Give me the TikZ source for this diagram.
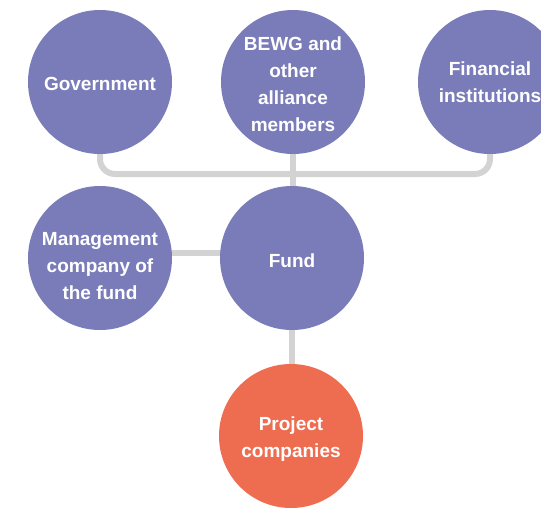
\documentclass[tikz,border=0pt]{standalone}
\usepackage{fontspec}
\setmainfont{Liberation Sans}
\usetikzlibrary{backgrounds}
\definecolor{purp}{HTML}{7A7CBA}
\definecolor{orng}{HTML}{EE6C50}
\definecolor{conngray}{HTML}{D3D3D3}
\tikzset{
  bubble/.style={circle, fill=purp, minimum size=144pt, inner sep=0pt},
  txt/.style={text=white, inner sep=0pt, font=\fontsize{19}{27}\selectfont\bfseries, align=center},
  conn/.style={draw=conngray, line width=6pt},
}
\begin{document}
\begin{tikzpicture}[x=1pt,y=-1pt]
\useasboundingbox (0,0) rectangle (541,509);
\clip (0,0) rectangle (541,509);
\node[bubble] (gov) at (100,82) {};
\node[bubble] (bewg) at (293,82) {};
\node[bubble] (fin) at (490,82) {};
\node[bubble] (mgmt) at (100,258) {};
\node[bubble] (fund) at (292,258) {};
\node[bubble, fill=orng] (proj) at (291,436) {};
\node[txt] (govt) at ([yshift=-2pt]gov.center) {Government};
\node[txt] (bewgt) at ([yshift=-2pt]bewg.center) {BEWG and\\other\\alliance\\members};
\node[txt] (fint) at (fin.center) {Financial\\institutions};
\node[txt] (mgmtt) at ([yshift=-8pt]mgmt.center) {Management\\company of\\the fund};
\node[txt] (fundt) at ([yshift=-3pt]fund.center) {Fund};
\node[txt] (projt) at ([yshift=-3pt]proj.center) {Project\\companies};
\begin{scope}[on background layer]
\draw[conn, rounded corners=15pt] (gov.center) -- (gov.center |- 0,174) -- (fin.center |- 0,174) -- (fin.center);
\draw[conn] (bewg.center) -- (bewg.center |- fund.center);
\draw[conn] (mgmt.center |- 0,253) -- (fund.center |- 0,253);
\draw[conn] (fund.center) -- (fund.center |- proj.center);
\end{scope}
\end{tikzpicture}
\end{document}
